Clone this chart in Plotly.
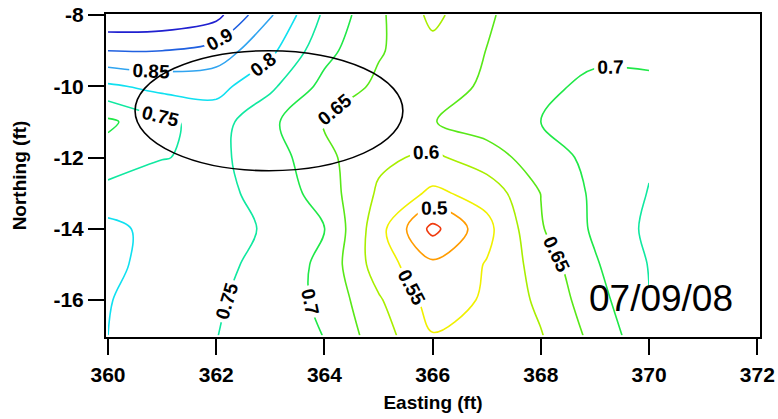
import plotly.graph_objects as go

# Grid of Easting (ft) / Northing (ft) and the contoured quantity
easting = [360, 361, 362, 363, 364, 365, 366, 367, 368, 369, 370]
northing = [-17, -16, -15, -14, -13, -12, -11, -10, -9, -8]

row_n17 = [0.800, 0.775, 0.751, 0.725, 0.699, 0.624, 0.552, 0.573, 0.597, 0.665, 0.735]
row_n16 = [0.802, 0.780, 0.756, 0.726, 0.690, 0.606, 0.530, 0.555, 0.611, 0.680, 0.749]
row_n15 = [0.810, 0.784, 0.762, 0.735, 0.687, 0.575, 0.510, 0.553, 0.622, 0.695, 0.752]
row_n14 = [0.815, 0.780, 0.765, 0.745, 0.702, 0.570, 0.435, 0.535, 0.646, 0.708, 0.760]
row_n13 = [0.766, 0.780, 0.762, 0.735, 0.676, 0.593, 0.540, 0.569, 0.651, 0.710, 0.752]
row_n12 = [0.723, 0.748, 0.760, 0.725, 0.663, 0.610, 0.590, 0.628, 0.675, 0.715, 0.745]
row_n11 = [0.690, 0.740, 0.770, 0.712, 0.645, 0.625, 0.648, 0.673, 0.700, 0.718, 0.725]
row_n10 = [0.792, 0.815, 0.817, 0.760, 0.685, 0.640, 0.620, 0.660, 0.690, 0.710, 0.708]
row_n9 = [0.900, 0.900, 0.878, 0.812, 0.716, 0.655, 0.615, 0.651, 0.690, 0.690, 0.690]
row_n8 = [0.995, 0.990, 0.965, 0.856, 0.741, 0.660, 0.588, 0.640, 0.698, 0.685, 0.685]

z = [row_n17, row_n16, row_n15, row_n14, row_n13, row_n12,
     row_n11, row_n10, row_n9, row_n8]

x_ticks = [360, 362, 364, 366, 368, 370, 372]
x_tick_text = ["360", "362", "364", "366", "368", "370", "372"]
y_ticks = [-16, -14, -12, -10, -8]
y_tick_text = ["-16", "-14", "-12", "-10", "-8"]
date_label = "07/09/08"

# contour level colours from 0.45 (red) up to 0.95 (dark blue)
level_colors = ["#f03c10", "#ff9c00", "#f0f000", "#a8ee00", "#58e818",
                "#20e848", "#10e8a0", "#10e0f0", "#30a4f0", "#2060e0", "#2020d0"]
colorscale = [[i / (len(level_colors) - 1), c] for i, c in enumerate(level_colors)]

FONT = "Liberation Sans, Arial, sans-serif"

fig = go.Figure(go.Contour(
    x=easting, y=northing, z=z,
    contours=dict(start=0.45, end=0.95, size=0.05, coloring="lines",
                  showlabels=True, labelformat=".2~f",
                  labelfont=dict(family=FONT, size=19, color="black", weight="bold")),
    colorscale=colorscale, showscale=False,
    line=dict(width=1.6, smoothing=1.0),
    hoverinfo="skip",
))

fig.add_shape(type="circle", xref="x", yref="y",
              x0=360.5, x1=365.45, y0=-12.37, y1=-9.0,
              line=dict(color="black", width=1.6))

fig.add_annotation(x=370.22, y=-15.95, xref="x", yref="y", text=date_label,
                   showarrow=False, font=dict(family=FONT, size=37, color="black"))

axis_common = dict(ticks="outside", ticklen=16, tickwidth=2, tickcolor="black",
                   showline=True, linewidth=2, linecolor="black", mirror=True,
                   showgrid=False, zeroline=False, automargin=False,
                   ticklabeloverflow="allow",
                   tickfont=dict(family=FONT, size=21, color="black", weight="bold"))

fig.update_layout(
    width=778, height=419,
    margin=dict(l=106, r=18, t=14, b=82),
    paper_bgcolor="white", plot_bgcolor="white",
    showlegend=False,
    xaxis=dict(range=[359.963, 372.05], tickmode="array", tickvals=x_ticks,
               ticktext=x_tick_text, ticklabelstandoff=2,
               title=dict(text="Easting (ft)", standoff=10,
                          font=dict(family=FONT, size=19, color="black", weight="bold")),
               **axis_common),
    yaxis=dict(range=[-17.04, -7.97], tickmode="array", tickvals=y_ticks,
               ticktext=y_tick_text, ticklabelstandoff=0,
               title=dict(text="Northing (ft)", standoff=22,
                          font=dict(family=FONT, size=19, color="black", weight="bold")),
               **axis_common),
)

# remove the browser's default page margin so the figure fills the window exactly
fig.write_html("out.html",
               config={"displayModeBar": False},
               post_script="document.body.style.margin='0';document.body.style.overflow='hidden';")
